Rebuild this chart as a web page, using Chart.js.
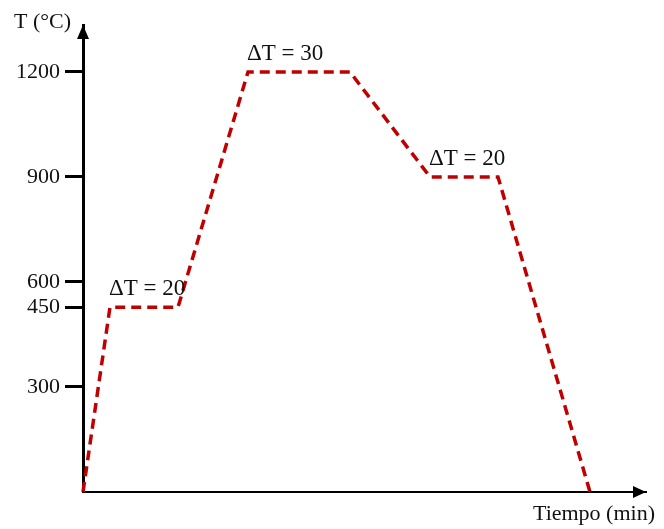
<!DOCTYPE html>
<html>
<head>
<meta charset="utf-8">
<script src="https://cdn.jsdelivr.net/npm/chart.js@4.4.1/dist/chart.umd.min.js"></script>
<style>
  html, body { margin: 0; padding: 0; background: #fff; }
  #wrap { width: 664px; height: 529px; }
</style>
</head>
<body>
<div id="wrap"><canvas id="grafico"></canvas></div>
<script>
const tiempo = [0, 5.4, 19, 33, 53.4, 69.4, 83, 101.4];
const temperatura = [0, 450, 450, 1200, 1200, 900, 900, 0];
const ticksT = [300, 450, 600, 900, 1200];
const notas = ['ΔT = 20', 'ΔT = 30', 'ΔT = 20'];
const notasInicio = [1, 3, 5]; // punto donde empieza cada meseta

const FUENTE = '"Liberation Serif", "Times New Roman", serif';
const ROJO = '#c00000';

// El eje T del esquema no es lineal: el nivel de 450 está dibujado más arriba
const tramoReal = [0, 300, 450, 600, 1200];
const tramoDibujo = [0, 300, 528, 600, 1200];

function deformar(v) {
    for (let i = 1; i < tramoReal.length; i++) {
        if (v <= tramoReal[i] || i === tramoReal.length - 1) {
            const f = (v - tramoReal[i - 1]) / (tramoReal[i] - tramoReal[i - 1]);
            return tramoDibujo[i - 1] + f * (tramoDibujo[i] - tramoDibujo[i - 1]);
        }
    }
    return v;
}

class EjeEsquema extends Chart.LinearScale {
    static id = 'esquema';
    static defaults = Chart.LinearScale.defaults;
    getPixelForValue(v) {
        return super.getPixelForValue(deformar(v));
    }
}
Chart.register(EjeEsquema);

// Flechas, títulos de ejes y notas de ΔT
const decorado = {
    id: 'decorado',
    afterDraw(chart) {
        const { ctx, chartArea: a, scales: { x, y } } = chart;
        ctx.save();
        ctx.fillStyle = '#000';

        ctx.beginPath();
        ctx.moveTo(a.left, a.top);
        ctx.lineTo(a.left - 6, a.top + 14);
        ctx.lineTo(a.left + 6, a.top + 14);
        ctx.closePath();
        ctx.fill();

        ctx.beginPath();
        ctx.moveTo(a.right, a.bottom);
        ctx.lineTo(a.right - 13, a.bottom - 6);
        ctx.lineTo(a.right - 13, a.bottom + 6);
        ctx.closePath();
        ctx.fill();

        ctx.fillStyle = '#111';
        ctx.font = '22px ' + FUENTE;
        ctx.textBaseline = 'alphabetic';
        ctx.textAlign = 'left';
        ctx.fillText('T (°C)', 14, 28);

        ctx.textAlign = 'right';
        ctx.fillText('Tiempo (min)', a.right + 9, a.bottom + 28);

        ctx.font = '23px ' + FUENTE;
        ctx.textAlign = 'left';
        notas.forEach((t, k) => {
            const i = notasInicio[k];
            ctx.fillText(t, x.getPixelForValue(tiempo[i]) - 1, y.getPixelForValue(temperatura[i]) - 12);
        });
        ctx.restore();
    }
};

new Chart(document.getElementById('grafico'), {
    type: 'line',
    data: {
        datasets: [{
            data: tiempo.map((t, i) => ({ x: t, y: temperatura[i] })),
            borderColor: ROJO,
            borderWidth: 3.5,
            borderDash: [10, 6],
            pointRadius: 0,
            tension: 0,
            fill: false,
            clip: false
        }]
    },
    options: {
        responsive: true,
        maintainAspectRatio: false,
        animation: false,
        layout: { padding: { left: 11, right: 18, top: 25, bottom: 29 } },
        plugins: {
            legend: { display: false },
            tooltip: { enabled: false }
        },
        scales: {
            x: {
                type: 'linear',
                min: 0,
                max: 112.6,
                ticks: { display: false },
                grid: { display: false },
                border: { display: true, color: '#000', width: 2 }
            },
            y: {
                type: 'esquema',
                min: 0,
                max: 1334,
                afterBuildTicks: (s) => { s.ticks = ticksT.map(v => ({ value: v })); },
                ticks: {
                    callback: (v) => String(v),
                    color: '#111',
                    padding: 5,
                    font: { family: FUENTE, size: 22 }
                },
                grid: {
                    drawOnChartArea: false,
                    drawTicks: true,
                    tickLength: 18,
                    tickWidth: 3,
                    tickColor: '#000'
                },
                border: { display: true, color: '#000', width: 3 }
            }
        }
    },
    plugins: [decorado]
});
</script>
</body>
</html>
